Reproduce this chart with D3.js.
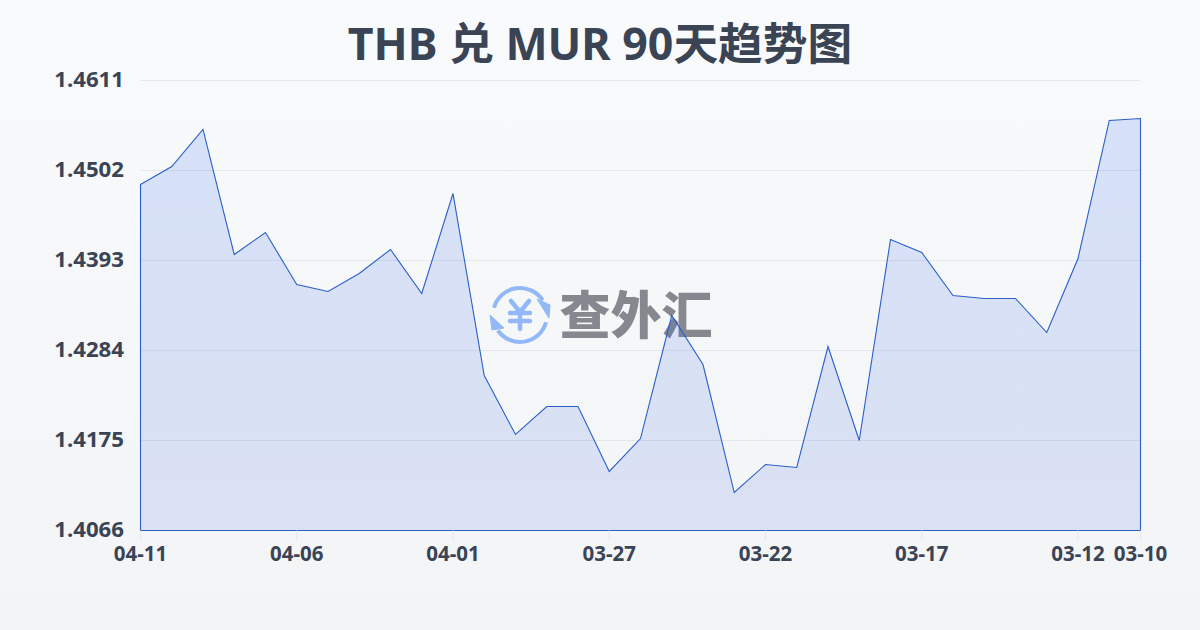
<!DOCTYPE html>
<html><head><meta charset="utf-8">
<script src="https://cdnjs.cloudflare.com/ajax/libs/d3/7.8.5/d3.min.js"></script>
<style>html,body{margin:0;padding:0;background:#f9fafb}svg{display:block}</style>
</head><body><div id="chart"></div>
<script>
const titleText = "THB 兑 MUR 90天趋势图";
const watermarkText = "查外汇";
const dates = ["04-11","04-10","04-09","04-08","04-07","04-06","04-05","04-04","04-03","04-02","04-01","03-31","03-30","03-29","03-28","03-27","03-26","03-25","03-24","03-23","03-22","03-21","03-20","03-19","03-18","03-17","03-16","03-15","03-14","03-13","03-12","03-11","03-10"];
const rates = [1.44850,1.45068,1.45517,1.44003,1.44269,1.43639,1.43555,1.43773,1.44063,1.43530,1.44741,1.42537,1.41823,1.42162,1.42162,1.41375,1.41774,1.43264,1.42670,1.41120,1.41459,1.41423,1.42888,1.41750,1.44184,1.44027,1.43506,1.43470,1.43470,1.43058,1.43954,1.45626,1.45650];
const yTicks = [1.4066,1.4175,1.4284,1.4393,1.4502,1.4611];
const xTickLabels = ["04-11","04-06","04-01","03-27","03-22","03-17","03-12","03-10"];

const W=1200,H=630,m={l:140.5,r:59.5,t:80.5,b:99.5};
const font='"Noto Sans","Noto Sans CJK SC",sans-serif';
const svg=d3.select("#chart").append("svg").attr("width",W).attr("height",H);
const defs=svg.append("defs");
const bg=defs.append("linearGradient").attr("id","bg").attr("x1",0).attr("y1",0).attr("x2",0).attr("y2",1);
bg.append("stop").attr("offset",0).attr("stop-color","#f9fafb");
bg.append("stop").attr("offset",1).attr("stop-color","#f3f4f6");
const ag=defs.append("linearGradient").attr("id","ag").attr("x1",0).attr("y1",0).attr("x2",0).attr("y2",1);
ag.append("stop").attr("offset",0).attr("stop-color","#2563eb").attr("stop-opacity",.16);
ag.append("stop").attr("offset",1).attr("stop-color","#1d4ed8").attr("stop-opacity",.12);
svg.append("rect").attr("width",W).attr("height",H).attr("fill","url(#bg)");

const x=d3.scalePoint().domain(d3.range(dates.length)).range([m.l,W-m.r]);
const y=d3.scaleLinear().domain([yTicks[0],yTicks[yTicks.length-1]]).range([H-m.b,m.t]);

// horizontal grid
svg.append("g").selectAll("line").data(yTicks.slice(1)).join("line")
 .attr("x1",m.l).attr("x2",W-m.r).attr("y1",d=>y(d)).attr("y2",d=>y(d))
 .attr("stroke","#e5e7eb").attr("stroke-width",1);

// watermark
const wm=svg.append("g").attr("transform","translate(520,315)");
const blue="#93b8f8";
wm.append("path").attr("d",d3.arc()({innerRadius:25,outerRadius:29,startAngle:-1.3,endAngle:1.0})).attr("fill",blue);
wm.append("path").attr("d",d3.arc()({innerRadius:25,outerRadius:29,startAngle:1.84,endAngle:4.1})).attr("fill",blue);
wm.append("path").attr("d","M17,-16L30,-10L29,3Z").attr("fill",blue).attr("stroke",blue).attr("stroke-width",1);
wm.append("path").attr("d","M-30,0L-28,15L-16,13Z").attr("fill",blue).attr("stroke",blue).attr("stroke-width",1);
wm.append("path").attr("d","M-9,-14L0,-3L9,-14M0,-3V14M-10,-2H10M-10,6H10").attr("fill","none").attr("stroke",blue).attr("stroke-width",4.5).attr("stroke-linecap","round").attr("stroke-linejoin","round");
svg.append("text").attr("x",636).attr("y",334).attr("text-anchor","middle").attr("font-family",'"Noto Sans CJK SC",sans-serif').attr("font-weight",900).attr("font-size",51).attr("fill","#85888f").text(watermarkText);

// area
const area=d3.area().x((d,i)=>x(i)).y0(y(yTicks[0])).y1(d=>y(d));
svg.append("path").datum(rates).attr("d",area).attr("fill","url(#ag)");
svg.append("path").datum(rates).attr("d",d=>area(d)).attr("fill","none").attr("stroke","#2b5fc7").attr("stroke-width",1.1);

// x ticks
const xt=svg.append("g").selectAll("g").data(xTickLabels).join("g");
const idx=l=>dates.indexOf(l);
xt.append("line").attr("x1",d=>x(idx(d))).attr("x2",d=>x(idx(d))).attr("y1",H-m.b).attr("y2",H-m.b+10).attr("stroke","#e5e7eb");
xt.append("text").attr("x",d=>x(idx(d))).attr("y",H-m.b+30).attr("text-anchor","middle").attr("font-family",font).attr("font-weight",700).attr("font-size",20.5).attr("fill","#3a4454").text(d=>d);

// y labels
svg.append("g").selectAll("text").data(yTicks).join("text")
 .attr("x",124).attr("y",d=>y(d)+6.5).attr("text-anchor","end").attr("font-family",font).attr("font-weight",700).attr("font-size",22.2).attr("fill","#3a4454").text(d=>d.toFixed(4));

svg.append("text").attr("x",600).attr("y",60).attr("text-anchor","middle").attr("font-family",font).attr("font-weight",700).attr("font-size",44.7).attr("fill","#3a4454").text(titleText);
</script></body></html>
